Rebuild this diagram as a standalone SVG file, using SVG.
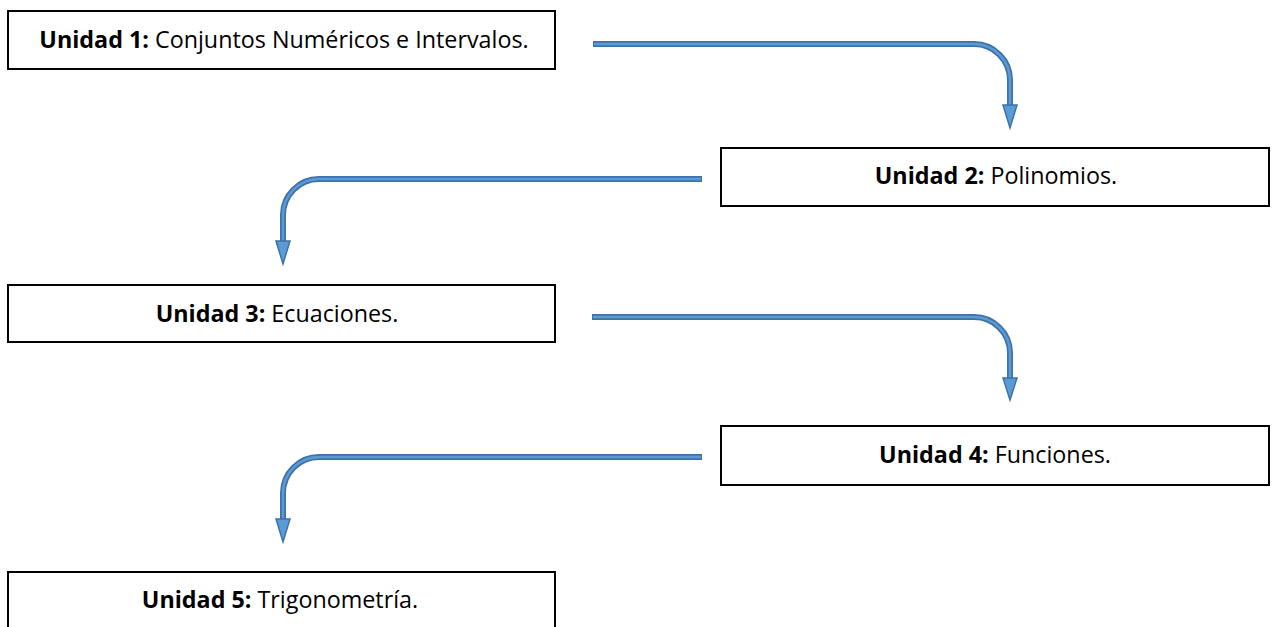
<svg xmlns="http://www.w3.org/2000/svg" width="1275" height="627" viewBox="0 0 1275 627">
  <defs>
    <style>
      .box { fill: #ffffff; stroke: #000000; stroke-width: 2; }
      .lbl { font-family: "Open Sans", "Noto Sans", "Liberation Sans", sans-serif; font-size: 23.3px; fill: #000000; text-anchor: middle; }
      .b { font-weight: bold; }
      .shaft-out { fill: none; stroke: #3F72A8; stroke-width: 6; stroke-linecap: butt; }
      .shaft-in { fill: none; stroke: #5B9BD5; stroke-width: 2.5; stroke-linecap: butt; }
      .head { fill: #5B9BD5; stroke: #3F72A8; stroke-width: 1.5; stroke-linejoin: miter; }
    </style>
  </defs>
  <rect x="0" y="0" width="1275" height="627" fill="#ffffff"/>

  <g id="connectors">
    <g id="arrow1">
      <path class="shaft-out" d="M593,44 H974 A36,36 0 0 1 1010,80 V106"/>
      <path class="shaft-in" d="M594,44 H974 A36,36 0 0 1 1010,80 V106"/>
      <polygon class="head" points="1003,105 1017,105 1010,128"/>
    </g>
    <g id="arrow2">
      <path class="shaft-out" d="M702,179 H319 A36,36 0 0 0 283,215 V242"/>
      <path class="shaft-in" d="M701,179 H319 A36,36 0 0 0 283,215 V242"/>
      <polygon class="head" points="276,241 290,241 283,264"/>
    </g>
    <g id="arrow3">
      <path class="shaft-out" d="M592,317 H974 A36,36 0 0 1 1010,353 V379"/>
      <path class="shaft-in" d="M593,317 H974 A36,36 0 0 1 1010,353 V379"/>
      <polygon class="head" points="1003,378 1017,378 1010,400"/>
    </g>
    <g id="arrow4">
      <path class="shaft-out" d="M702,457 H319 A36,36 0 0 0 283,493 V520"/>
      <path class="shaft-in" d="M701,457 H319 A36,36 0 0 0 283,493 V520"/>
      <polygon class="head" points="276,519 290,519 283,542"/>
    </g>
  </g>

  <g id="node1">
    <rect class="box" x="8" y="11" width="547" height="58"/>
    <text class="lbl" x="284" y="48"><tspan class="b">Unidad 1:</tspan> Conjuntos Numéricos e Intervalos.</text>
  </g>
  <g id="node2">
    <rect class="box" x="721" y="148" width="548" height="58"/>
    <text class="lbl" x="996" y="184"><tspan class="b">Unidad 2:</tspan> Polinomios.</text>
  </g>
  <g id="node3">
    <rect class="box" x="8" y="285" width="547" height="57"/>
    <text class="lbl" x="277" y="322"><tspan class="b">Unidad 3:</tspan> Ecuaciones.</text>
  </g>
  <g id="node4">
    <rect class="box" x="721" y="426" width="548" height="59"/>
    <text class="lbl" x="995" y="463"><tspan class="b">Unidad 4:</tspan> Funciones.</text>
  </g>
  <g id="node5">
    <rect class="box" x="8" y="572" width="547" height="70"/>
    <text class="lbl" x="280" y="608"><tspan class="b">Unidad 5:</tspan> Trigonometría.</text>
  </g>
</svg>
